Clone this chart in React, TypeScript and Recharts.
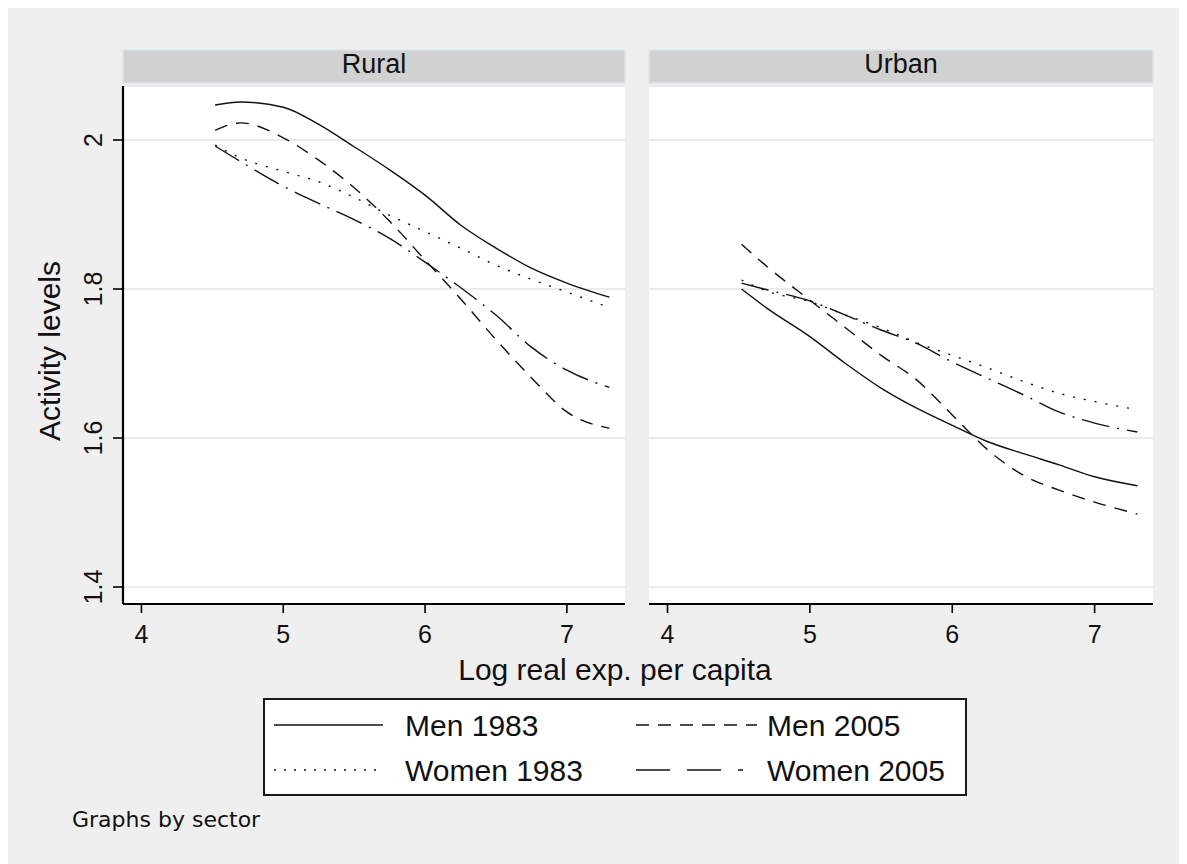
import React from 'react';
import { LineChart, Line, XAxis, YAxis, CartesianGrid } from 'recharts';

// ---------- data ----------
const xValues = [4.52, 4.7, 5.0, 5.25, 5.5, 5.75, 6.0, 6.25, 6.5, 6.75, 7.0, 7.3];

const ruralMen1983 = [2.047, 2.051, 2.044, 2.021, 1.991, 1.960, 1.926, 1.886, 1.855, 1.828, 1.808, 1.789];
const ruralMen2005 = [2.013, 2.023, 2.003, 1.973, 1.936, 1.891, 1.839, 1.787, 1.732, 1.681, 1.635, 1.613];
const ruralWomen1983 = [1.993, 1.976, 1.958, 1.944, 1.923, 1.899, 1.877, 1.855, 1.832, 1.813, 1.796, 1.775];
const ruralWomen2005 = [1.992, 1.971, 1.938, 1.915, 1.893, 1.868, 1.836, 1.802, 1.765, 1.722, 1.691, 1.668];

const urbanMen1983 = [1.800, 1.774, 1.736, 1.700, 1.667, 1.640, 1.617, 1.595, 1.579, 1.564, 1.548, 1.536];
const urbanMen2005 = [1.860, 1.830, 1.785, 1.748, 1.711, 1.678, 1.631, 1.584, 1.550, 1.530, 1.514, 1.498];
const urbanWomen1983 = [1.812, 1.797, 1.783, 1.765, 1.748, 1.728, 1.711, 1.694, 1.676, 1.660, 1.649, 1.638];
const urbanWomen2005 = [1.808, 1.799, 1.784, 1.765, 1.745, 1.727, 1.702, 1.680, 1.658, 1.635, 1.620, 1.608];

const panelTitles = ['Rural', 'Urban'];
const seriesKeys = ['m83', 'm05', 'w83', 'w05'];
const seriesLabels = ['Men 1983', 'Men 2005', 'Women 1983', 'Women 2005'];
const xTicks = [4, 5, 6, 7];
const yTicks = [1.4, 1.6, 1.8, 2];
const xTitle = 'Log real exp. per capita';
const yTitle = 'Activity levels';
const noteText = 'Graphs by sector';

const buildRows = (a: number[], b: number[], c: number[], d: number[]) =>
  xValues.map((x, i) => ({ x, m83: a[i], m05: b[i], w83: c[i], w05: d[i] }));

const ruralData = buildRows(ruralMen1983, ruralMen2005, ruralWomen1983, ruralWomen2005);
const urbanData = buildRows(urbanMen1983, urbanMen2005, urbanWomen1983, urbanWomen2005);

// ---------- styles ----------
const FONT = '"Liberation Sans", Arial, sans-serif';
const INK = '#111111';
const dashes: Record<string, string | undefined> = {
  m83: undefined,
  m05: '13 9',
  w83: '2 9',
  w05: '28 8 2 8',
};
const legendDashes: Record<string, string | undefined> = {
  m83: undefined,
  m05: '13 9',
  w83: '2 8',
  w05: '34 17 34 17 5 200',
};

const X_DOMAIN: [number, number] = [3.87, 7.41];
const Y_DOMAIN: [number, number] = [1.3772, 2.0725];

const XTick = (props: any) => {
  const { x, y, payload } = props;
  return (
    <text x={x} y={y + 30} textAnchor="middle" fontSize={25} fontFamily={FONT} fill={INK}>
      {payload.value}
    </text>
  );
};

const YTick = (props: any) => {
  const { x, y, payload } = props;
  const tx = x - 11;
  return (
    <text
      x={tx}
      y={y}
      textAnchor="middle"
      fontSize={25}
      fontFamily={FONT}
      fill={INK}
      transform={`rotate(-90 ${tx} ${y})`}
    >
      {payload.value}
    </text>
  );
};

const renderLines = () =>
  seriesKeys.map((k) => (
    <Line
      key={k}
      dataKey={k}
      type="monotone"
      stroke={INK}
      strokeWidth={1.4}
      strokeDasharray={dashes[k]}
      dot={false}
      activeDot={false}
      isAnimationActive={false}
    />
  ));

const Panel = ({ data, showY, margin, width }: any) => (
  <LineChart width={width} height={684} data={data} margin={margin}>
    <CartesianGrid vertical={false} fill="#ffffff" stroke="#e4e4e4" strokeWidth={1.6} />
    <XAxis
      dataKey="x"
      type="number"
      domain={X_DOMAIN}
      ticks={xTicks}
      allowDataOverflow
      height={40}
      tickSize={9}
      tickMargin={0}
      axisLine={{ stroke: '#000', strokeWidth: 2.2 }}
      tickLine={{ stroke: '#000', strokeWidth: 1.6 }}
      tick={<XTick />}
    />
    <YAxis
      type="number"
      domain={Y_DOMAIN}
      ticks={yTicks}
      allowDataOverflow
      hide={!showY}
      width={116}
      tickSize={10}
      tickMargin={0}
      axisLine={{ stroke: '#000', strokeWidth: 2.2 }}
      tickLine={{ stroke: '#000', strokeWidth: 1.6 }}
      tick={<YTick />}
    />
    {renderLines()}
  </LineChart>
);

// page offset of wrapper: (7, 6)
export default function App() {
  const legendRows = [
    { y: 719, items: [0, 1] },
    { y: 764, items: [2, 3] },
  ];
  const colX = [
    { x1: 267, x2: 376, tx: 398 },
    { x1: 629, x2: 750, tx: 760 },
  ];
  return (
    <div
      style={{
        position: 'relative',
        width: 1180,
        height: 858,
        marginTop: -2,
        marginLeft: -1,
        background: '#efefef',
        overflow: 'hidden',
      }}
    >
      <svg
        width={1180}
        height={858}
        style={{ position: 'absolute', left: 0, top: 0 }}
        fontFamily={FONT}
      >
        {/* strip headers */}
        <rect x={116} y={44} width={502} height={33} fill="#d1d1d1" stroke="#dce6ec" strokeWidth={1.5} />
        <rect x={642} y={44} width={504} height={33} fill="#d1d1d1" stroke="#dce6ec" strokeWidth={1.5} />
        <text x={367} y={67} textAnchor="middle" fontSize={27} fill={INK}>{panelTitles[0]}</text>
        <text x={894} y={67} textAnchor="middle" fontSize={27} fill={INK}>{panelTitles[1]}</text>

        {/* axis titles */}
        <text x={53} y={345} textAnchor="middle" fontSize={30} fill={INK} transform="rotate(-90 53 345)">
          {yTitle}
        </text>
        <text x={608} y={674} textAnchor="middle" fontSize={30} fill={INK}>{xTitle}</text>

        {/* legend */}
        <rect x={257} y={693} width={702} height={96} fill="#ffffff" stroke="#1a1a1a" strokeWidth={2} />
        {legendRows.map((row, ri) =>
          row.items.map((si, ci) => (
            <g key={`${ri}-${ci}`}>
              <line
                x1={colX[ci].x1}
                x2={colX[ci].x2}
                y1={row.y}
                y2={row.y}
                stroke={INK}
                strokeWidth={1.6}
                strokeDasharray={legendDashes[seriesKeys[si]]}
              />
              <text x={colX[ci].tx} y={row.y + 11} fontSize={30} fill={INK}>
                {seriesLabels[si]}
              </text>
            </g>
          ))
        )}

        {/* note */}
        <text x={65} y={821} fontSize={22} fill={INK} fontFamily='"DejaVu Sans", Verdana, sans-serif'>
          {noteText}
        </text>
      </svg>

      <div style={{ position: 'absolute', left: 0, top: 0 }}>
        <Panel data={ruralData} showY width={630} margin={{ top: 80, right: 12, left: 0, bottom: 46 }} />
      </div>
      <div style={{ position: 'absolute', left: 630, top: 0 }}>
        <Panel data={urbanData} showY={false} width={550} margin={{ top: 80, right: 34, left: 12, bottom: 46 }} />
      </div>
    </div>
  );
}
